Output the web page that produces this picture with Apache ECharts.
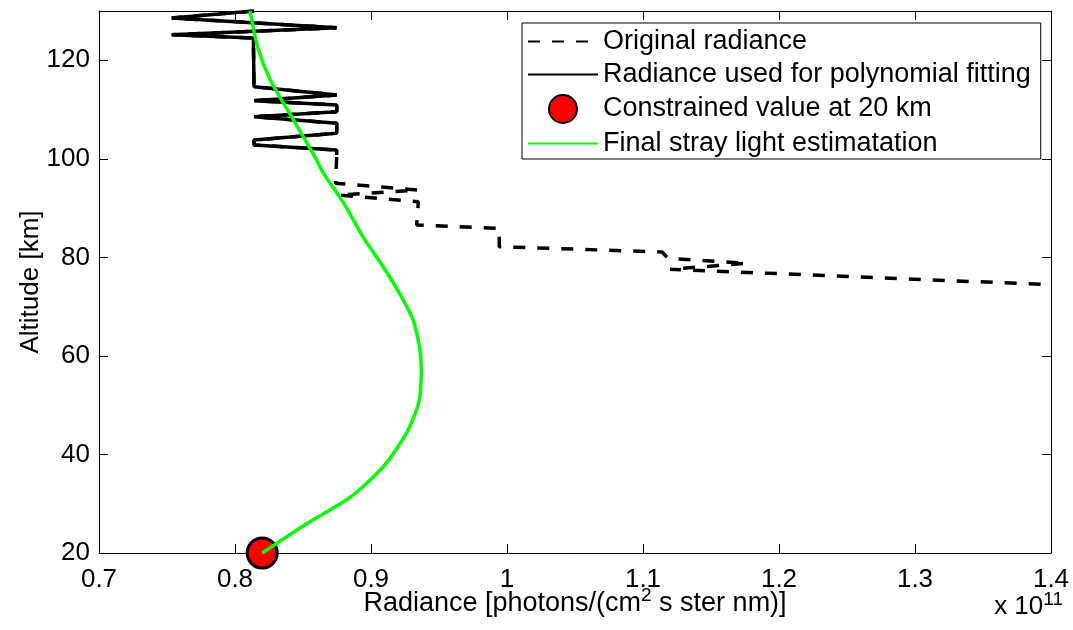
<!DOCTYPE html>
<html>
<head>
<meta charset="utf-8">
<script src="https://cdn.jsdelivr.net/npm/echarts@6/dist/echarts.min.js"></script>
<style>
html,body{margin:0;padding:0;background:#fff;}
#c{width:1073px;height:630px;}
</style>
</head>
<body>
<div id="c"></div>
<script>
// Original radiance profile (x in units of 1e11, altitude in km)
const origX = [0.814, 0.7535, 0.8747, 0.7535, 0.8135, 0.814, 0.8748, 0.814, 0.8748, 0.8748, 0.814, 0.8748, 0.8748, 0.814, 0.814, 0.8748, 0.8748, 0.874, 0.9348, 0.876, 0.9348, 0.9336, 0.9943, 0.9943, 1.114, 1.1184, 1.1762, 1.1199, 1.4];
const origAlt = [130, 128.6, 126.6, 125.2, 124.5, 114.64, 112.96, 111.80, 110.93, 109.57, 108.55, 107.21, 105.18, 103.82, 102.81, 101.79, 100.78, 95.04, 93.67, 92.66, 91.30, 86.57, 85.90, 82.17, 81.09, 79.81, 78.80, 77.58, 74.45];
// Part used for polynomial fitting (first points of the profile, above ~100 km)
const fitCount = 17;
// Final stray light estimation
const fitX = [0.820, 0.853, 0.885, 0.909, 0.926, 0.935, 0.937, 0.936, 0.931, 0.921, 0.909, 0.894, 0.880, 0.865, 0.860, 0.843, 0.826, 0.817, 0.811];
const fitAlt = [20, 26.0, 31.4, 37.5, 44.3, 50.4, 57.1, 61.2, 67.3, 72.7, 78.1, 84.2, 91.0, 97.1, 99.8, 107.9, 116.0, 122.4, 130];
// Constrained value
const constrX = [0.82];
const constrAlt = [20];
const seriesNames = ['Original radiance', 'Radiance used for polynomial fitting', 'Constrained value at 20 km', 'Final stray light estimatation'];

const pairs = (xs, ys) => xs.map((v, i) => [v, ys[i]]);
const FONT = "'Liberation Sans', Arial, Helvetica, sans-serif";
const hiddenSym = {color: 'rgba(0,0,0,0)', borderColor: 'rgba(0,0,0,0)', borderWidth: 0, opacity: 0};

const chart = echarts.init(document.getElementById('c'), null, {renderer: 'canvas'});
const axisCommon = {
  axisLine: {show: true, onZero: false, lineStyle: {color: '#000', width: 1}},
  axisTick: {show: true, inside: true, length: 9, lineStyle: {color: '#000', width: 1}},
  splitLine: {show: false}
};
chart.setOption({
  animation: false,
  backgroundColor: '#fff',
  textStyle: {fontFamily: FONT},
  grid: {left: 99, right: 22, top: 11, bottom: 77, containLabel: false},
  xAxis: [
    Object.assign({}, axisCommon, {
      type: 'value', min: 0.7, max: 1.4, interval: 0.1, position: 'bottom',
      axisLabel: {color: '#000', fontSize: 26, fontFamily: FONT, margin: 14},
      name: 'Radiance [photons/(cm{sup|2} s ster nm)]',
      nameLocation: 'middle', nameGap: 33, nameMoveOverlap: false,
      nameTextStyle: {color: '#000', fontSize: 27, fontFamily: FONT,
        rich: {sup: {fontSize: 19, verticalAlign: 'top', padding: [0, 0, 16, 0], fontFamily: FONT}}}
    }),
    Object.assign({}, axisCommon, {
      type: 'value', min: 0.7, max: 1.4, interval: 0.1, position: 'top',
      axisLabel: {show: false}
    })
  ],
  yAxis: [
    Object.assign({}, axisCommon, {
      type: 'value', min: 20, max: 130, interval: 20, position: 'left',
      axisLabel: {color: '#000', fontSize: 26, fontFamily: FONT, margin: 9, showMaxLabel: false},
      name: 'Altitude [km]', nameLocation: 'middle', nameGap: 55, nameRotate: 90, nameMoveOverlap: false,
      nameTextStyle: {color: '#000', fontSize: 26, fontFamily: FONT}
    }),
    Object.assign({}, axisCommon, {
      type: 'value', min: 20, max: 130, interval: 20, position: 'right',
      axisLabel: {show: false}
    })
  ],
  legend: {
    orient: 'vertical', left: 522, top: 23,
    backgroundColor: '#fff', borderColor: '#000', borderWidth: 1,
    padding: [5, 10, 2, 5], itemGap: 6, itemWidth: 70, itemHeight: 28,
    textStyle: {color: '#000', fontSize: 27, fontFamily: FONT},
    data: [
      {name: seriesNames[0], itemStyle: hiddenSym},
      {name: seriesNames[1], itemStyle: hiddenSym},
      {name: seriesNames[2]},
      {name: seriesNames[3], itemStyle: hiddenSym}
    ]
  },
  graphic: [{
    type: 'text', right: 10, bottom: 10,
    style: {
      text: '{b|x 10}{s|11}',
      rich: {
        b: {fontSize: 26, fontFamily: FONT, fill: '#000'},
        s: {fontSize: 19, fontFamily: FONT, fill: '#000', verticalAlign: 'top', padding: [0, 0, 14, 0]}
      }
    }
  }],
  series: [
    {
      name: seriesNames[0], type: 'line', data: pairs(origX, origAlt),
      symbol: 'none', z: 2,
      lineStyle: {color: '#000', width: 3.5, type: [12, 12]}
    },
    {
      name: seriesNames[1], type: 'line', data: pairs(origX.slice(0, fitCount), origAlt.slice(0, fitCount)),
      symbol: 'none', z: 3,
      lineStyle: {color: '#000', width: 3.5, type: 'solid'}
    },
    {
      name: seriesNames[2], type: 'scatter', data: pairs(constrX, constrAlt),
      symbol: 'circle', symbolSize: 30, z: 4,
      itemStyle: {color: '#ff0000', borderColor: '#000', borderWidth: 3, opacity: 1}
    },
    {
      name: seriesNames[3], type: 'line', data: pairs(fitX, fitAlt),
      symbol: 'none', smooth: 0.25, z: 5,
      lineStyle: {color: '#00ff00', width: 3.5}
    }
  ]
});
</script>
</body>
</html>
